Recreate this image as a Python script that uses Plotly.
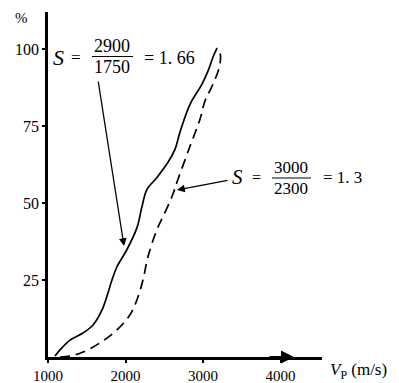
import plotly.graph_objects as go

# Data
solid_x = [1090, 1155, 1284, 1452, 1581, 1697, 1774, 1826, 1890, 2019, 2148, 2213, 2277, 2406, 2548, 2638, 2703, 2832, 2987, 3064, 3129, 3180]
solid_y = [0.3, 2.3, 5.5, 7.8, 10.4, 15.3, 20.8, 25.1, 29.3, 34.9, 42.0, 48.9, 54.4, 58.3, 63.2, 67.4, 73.0, 82.0, 88.6, 92.8, 97.4, 100.3]

dash_x = [1155, 1284, 1452, 1671, 1890, 2058, 2148, 2226, 2290, 2406, 2484, 2600, 2677, 2832, 2961, 3025, 3129, 3210, 3222, 3180]
dash_y = [0.0, 0.3, 1.6, 4.6, 8.8, 13.7, 18.6, 25.1, 32.6, 41.4, 45.6, 52.1, 57.7, 68.4, 77.2, 83.1, 88.6, 94.1, 98.4, 100.3]

x_ticks = [1000, 2000, 3000, 4000]
x_tick_labels = ["1000", "2000", "3000", "4000"]
y_ticks = [25, 50, 75, 100]
y_tick_labels = ["25", "50", "75", "100"]

# Pixel -> paper / data helpers for placing labels
L, R, T, B = 48, 322, 12, 357
XMIN, XMAX, YMIN, YMAX = 1000, 4535, 0, 112
def px_(px):
    return (px - L) / (R - L)
def py_(py):
    return (B - py) / (B - T)
def dx(px):
    return XMIN + px_(px) * (XMAX - XMIN)
def dy(py):
    return YMIN + py_(py) * (YMAX - YMIN)

FONT = "Liberation Serif, Times New Roman, serif"

fig = go.Figure()
fig.add_trace(go.Scatter(x=solid_x, y=solid_y, mode="lines",
                         line=dict(color="black", width=1.7, shape="spline", smoothing=1.0),
                         showlegend=False, hoverinfo="skip"))
fig.add_trace(go.Scatter(x=dash_x, y=dash_y, mode="lines",
                         line=dict(color="black", width=1.7, dash="10px,6px", shape="spline", smoothing=1.0),
                         showlegend=False, hoverinfo="skip"))

ann = []
def txt(px, py, s, size=14, italic=False):
    ann.append(dict(x=px_(px), y=py_(py), xref="paper", yref="paper", text=(f"<i>{s}</i>" if italic else s),
                    showarrow=False, font=dict(family=FONT, size=size, color="black"),
                    xanchor="center", yanchor="middle"))

# label 1
txt(58, 58, "S", 22, italic=True)
txt(76, 58, "=", 17)
txt(112, 46, "2900", 18)
txt(112, 67, "1750", 18)
txt(169, 58, "= 1. 66", 18)
# label 2
txt(237, 177, "S", 21, italic=True)
txt(256, 177, "=", 16)
txt(291, 167, "3000", 17)
txt(291, 189, "2300", 17)
txt(342, 177, "= 1. 3", 17)

shapes = [
    dict(type="line", xref="paper", yref="paper", x0=px_(92), x1=px_(133), y0=py_(56.5), y1=py_(56.5),
         line=dict(color="black", width=1)),
    dict(type="line", xref="paper", yref="paper", x0=px_(272), x1=px_(311), y0=py_(178), y1=py_(178),
         line=dict(color="black", width=1)),
]

# pointer arrows
ann.append(dict(x=dx(124), y=dy(246), ax=dx(98), ay=dy(80), xref="x", yref="y", axref="x", ayref="y",
                showarrow=True, arrowhead=2, arrowsize=1.2, arrowwidth=1.3, arrowcolor="black", text=""))
ann.append(dict(x=dx(177), y=dy(190), ax=dx(229), ay=dy(180), xref="x", yref="y", axref="x", ayref="y",
                showarrow=True, arrowhead=2, arrowsize=1.2, arrowwidth=1.3, arrowcolor="black", text=""))
# arrow mark on x axis
ann.append(dict(x=dx(294), y=0, ax=dx(268), ay=0, xref="x", yref="y", axref="x", ayref="y",
                showarrow=True, arrowhead=2, arrowsize=1.3, arrowwidth=2, arrowcolor="black", text=""))

# axis titles
ann.append(dict(x=px_(21), y=py_(18), xref="paper", yref="paper", text="%",
                showarrow=False, font=dict(family=FONT, size=15, color="black"),
                xanchor="center", yanchor="middle"))
ann.append(dict(x=px_(358), y=py_(371), xref="paper", yref="paper",
                text="<i>V</i><sub>P</sub> (m/s)", showarrow=False,
                font=dict(family=FONT, size=17, color="black"),
                xanchor="center", yanchor="middle"))

fig.update_layout(
    width=399, height=383,
    margin=dict(l=L, r=399 - R, t=T, b=383 - B, pad=0),
    paper_bgcolor="white", plot_bgcolor="white",
    annotations=ann, shapes=shapes,
    xaxis=dict(range=[XMIN, XMAX], tickvals=x_ticks, ticktext=x_tick_labels, automargin=False,
               showgrid=False, zeroline=False, showline=True, linecolor="black", linewidth=2.5,
               ticks="outside", ticklen=3, tickwidth=1.5, tickcolor="black",
               tickfont=dict(family=FONT, size=15, color="black")),
    yaxis=dict(range=[YMIN, YMAX], tickvals=y_ticks, ticktext=y_tick_labels, automargin=False,
               showgrid=False, zeroline=False, showline=True, linecolor="black", linewidth=2.5,
               ticks="outside", ticklen=3, tickwidth=1.5, tickcolor="black",
               tickfont=dict(family=FONT, size=16, color="black")),
)

fig.write_html("out.html", config={"displayModeBar": False},
               post_script="document.body.style.margin='0';document.body.style.overflow='hidden';")
